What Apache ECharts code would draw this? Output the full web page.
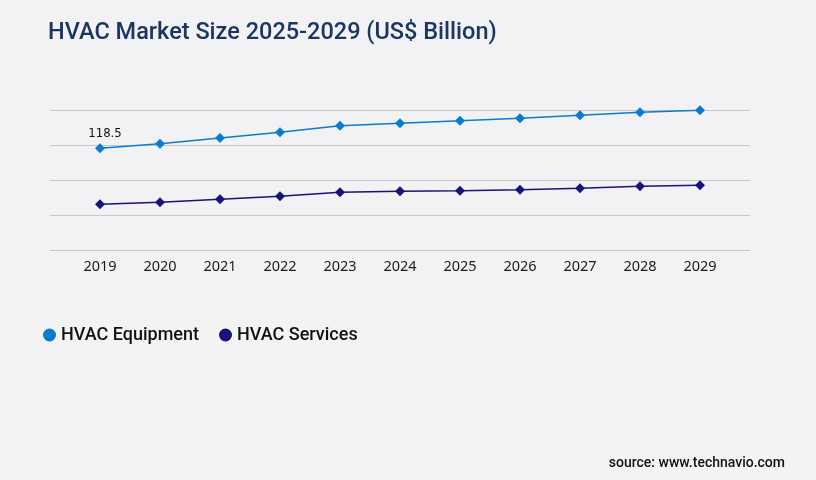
<!DOCTYPE html>
<html>
<head>
<meta charset="utf-8">
<script src="https://cdn.jsdelivr.net/npm/echarts@6/dist/echarts.min.js"></script>
<style>
html,body{margin:0;padding:0;background:#f2f2f5;}
#c{width:816px;height:480px;}
</style>
</head>
<body>
<div id="c"></div>
<script>
const years = ['2019','2020','2021','2022','2023','2024','2025','2026','2027','2028','2029'];
const equipment = [118.5, 123.8, 130.4, 137.0, 144.7, 147.5, 150.5, 153.3, 156.8, 160.3, 162.6];
const services = [53.2, 55.5, 59.0, 62.5, 67.2, 68.3, 69.0, 70.2, 71.8, 74.2, 75.3];
const yMax = 163;

const chart = echarts.init(document.getElementById('c'));
chart.setOption({
  backgroundColor: '#f2f2f5',
  animation: false,
  title: {
    text: 'HVAC Market Size 2025-2029 (US$ Billion)',
    left: 43, top: 16,
    textStyle: {fontFamily: 'Roboto', fontWeight: 500, fontSize: 23.5, color: '#1c3664'}
  },
  graphic: [
    {type: 'rect', shape: {x: 30, y: 300, width: 760, height: 180}, style: {fill: '#f3f3f4'}, z: -10, silent: true},
    {type: 'text', right: 31, top: 456, style: {text: 'source: www.technavio.com', font: '500 14px Roboto', fill: '#111'}}
  ],
  legend: {
    left: 38, top: 321,
    itemWidth: 13, itemHeight: 13, itemGap: 20,
    icon: 'circle',
    textStyle: {fontFamily: 'Roboto', fontWeight: 500, fontSize: 18, color: '#111'},
    data: ['HVAC Equipment', 'HVAC Services']
  },
  grid: [
    {left: 100, right: 116, top: 110, height: 140},
    {left: 50, right: 66, top: 110, height: 140}
  ],
  xAxis: [
    {type: 'category', data: years, boundaryGap: false, gridIndex: 0,
     axisLine: {show: false}, axisTick: {show: false},
     axisLabel: {margin: 9, fontFamily: 'Noto Sans', fontSize: 14.5, color: '#1a1a1a'}},
    {type: 'value', gridIndex: 1, show: false}
  ],
  yAxis: [
    {type: 'value', gridIndex: 0, min: 0, max: yMax, show: false, splitLine: {show: false}},
    {type: 'value', gridIndex: 1, min: 0, max: yMax, interval: yMax / 4,
     axisLine: {show: false}, axisTick: {show: false}, axisLabel: {show: false},
     splitLine: {lineStyle: {color: '#c8c8c8', width: 1}}}
  ],
  series: [
    {name: 'HVAC Equipment', type: 'line', data: equipment, xAxisIndex: 0, yAxisIndex: 0,
     color: '#0a7bd3', symbol: 'diamond', symbolSize: 10,
     lineStyle: {width: 1.5, color: '#0a7bd3'},
     itemStyle: {color: '#0a7bd3'},
     label: {show: true, position: 'top', distance: 3, offset: [5, 0],
       formatter: p => p.dataIndex === 0 ? String(p.value) : '',
       fontFamily: 'DejaVu Sans Condensed', fontSize: 13, color: '#111'}},
    {name: 'HVAC Services', type: 'line', data: services, xAxisIndex: 0, yAxisIndex: 0,
     color: '#17137a', symbol: 'diamond', symbolSize: 10,
     lineStyle: {width: 1.5, color: '#17137a'},
     itemStyle: {color: '#17137a'}}
  ]
});
</script>
</body>
</html>
